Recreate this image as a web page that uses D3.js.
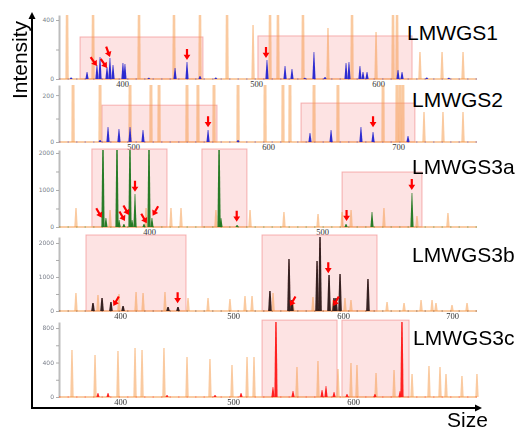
<!DOCTYPE html>
<html><head><meta charset="utf-8">
<script src="https://cdn.jsdelivr.net/npm/d3@7"></script>
<style>body{margin:0;background:#fff}svg{display:block}</style>
</head><body><svg id="c" width="516" height="431"></svg>
<script>
// ---------------- DATA ----------------
const panelNames = ["LMWGS1","LMWGS2","LMWGS3a","LMWGS3b","LMWGS3c"];
const sampleColors = ["#2424d0","#2424d0","#1c761c","#2a1414","#ff1414"];

const xTicks1 = [400,500,600];
const xTicks2 = [500,600,700];
const xTicks3 = [400,500];
const xTicks4 = [400,500,600,700];
const xTicks5 = [400,500,600];

const yTicks1 = [0,200,400],            yLabels1 = [0,400];
const yTicks2 = [0,100,200],            yLabels2 = [0,200];
const yTicks3 = [0,500,1000,1500,2000], yLabels3 = [0,1000,2000];
const yTicks4 = [0,500,1000,1500,2000], yLabels4 = [0,1000,2000];
const yTicks5 = [0,200,400,600,800],    yLabels5 = [0,400,800];

// size-standard (orange) peaks: [size, intensity]
const ladder1 = [[359,1000],[378.4,1000],[412.7,1000],[438.8,1000],[458.2,1000],[478.4,1000],[497.8,366],[511.5,1000],[518,1000],[538.5,1000],[559,346],[578.7,1000],[598.4,319],[612.3,1000],[615.6,1000],[634.4,183],[652.5,183],[669.7,183]];
const ladder2 = [[455.6,1000],[475.6,1000],[497.8,1000],[513.3,1000],[519.3,1000],[540,1000],[548.1,1000],[560,1000],[577.8,1000],[597.8,1000],[611.5,1000],[616.9,1000],[635.4,1000],[653.8,1000],[688.5,1000],[699.2,1000],[701.5,1000],[703.8,1000],[720,128],[734.6,128],[750,128]];
const ladder3 = [[357.8,514],[377.5,459],[398.3,514],[412.7,514],[418.5,514],[438.7,459],[458.4,459],[478,405],[497.7,351],[511.6,405],[516.8,459],[535.8,514],[554.9,297],[572.8,378]];
const ladder4 = [[361,529],[380.5,471],[399.1,500],[414.2,559],[420.4,529],[439.8,559],[460.2,382],[477.9,382],[497.3,353],[510.9,441],[517.3,441],[536.4,529],[554.5,265],[572.7,412],[590.9,324],[601.8,382],[607.3,324],[640.4,265],[656,235],[671.6,324],[681.7,324],[685.3,235],[700,176],[713.8,235]];
const ladder5 = [[357.5,545],[377.9,487],[398.2,533],[413.3,568],[419.5,545],[438.9,568],[459.3,463],[479.6,440],[499.1,371],[511.7,463],[517.5,463],[553.3,348],[570.8,417],[587.5,324],[598.3,394],[603.3,371],[619.2,278],[634.2,313],[649.2,267],[663.3,359],[672.5,348],[677.5,267],[690.8,243],[703.3,267]];

// sample peaks: [size, intensity]
const sample1 = [[362,10],[373.9,47],[381.3,95],[383.6,149],[388.8,81],[391,142],[393.3,95],[400.7,108],[402.2,102],[420,8],[439.6,75],[448.5,115],[458.2,20],[470,10],[509,129],[523.8,88],[529.5,68],[540,8],[547.5,183],[556.6,14],[573.8,108],[576.2,115],[585.2,88],[587.7,47],[591,47],[616.4,61],[619.7,47],[640,10],[658,8]];
const sample2 = [[475.6,9],[481.5,64],[489.6,55],[497.8,64],[507.4,51],[555.6,51],[577.8,9],[632.3,38],[648.5,51],[671.5,64],[680.8,43],[707.7,26]];
const sample3 = [[373.4,3000],[375.1,243],[381.5,3000],[382.7,190],[385.5,81],[389,3000],[390.2,190],[391.9,892],[397.1,81],[400,3000],[401.7,243],[440.5,3000],[441.6,243],[450.9,54],[513.9,81],[528.9,405],[552,919]];
const sample4 = [[376.1,235],[384.1,382],[392,265],[402.7,147],[442.5,118],[451.3,118],[533.6,588],[550.9,1529],[553.6,324],[576.4,1471],[579.1,2300],[587.3,1059],[591.8,382],[593.6,382],[597.3,1088],[622.9,941]];
const sample5 = [[380.5,46],[389.4,46],[441.6,23],[484.1,23],[506.7,46],[533.3,116],[535.8,1200],[550,70],[574.2,81],[577.5,127],[584.2,58],[595,35],[618.3,35],[639.2,70],[640.8,1200]];

// red arrows: [size, intensity at tip, tilt in degrees]
const arrows1 = [[381.3,88,-35],[388.8,75,-35],[391,149,-20],[448.5,129,0],[508.2,142,0]];
const arrows2 = [[555.6,63,0],[680.8,63,0]];
const arrows3 = [[372.7,251,-30],[386.1,162,-30],[388.4,324,-30],[391.9,950,0],[398.7,100,-30],[402.1,305,30],[450.7,143,0],[514.2,162,0],[551.9,1000,0]];
const arrows4 = [[394.1,147,30],[451,226,0],[551.8,147,30],[586.6,1108,0],[591.2,147,30]];
const arrows5 = [];

// highlighted regions: [size from, size to, top intensity]
const boxes1 = [[368.7,460.4,285],[501.6,627.9,292]];
const boxes2 = [[477,562.2,157],[625.4,713,166]];
const boxes3 = [[367,410.4,2108],[430.6,456.6,2108],[511.6,557.8,1486]];
const boxes4 = [[369.9,458.4,2235],[526.4,631.2,2235]];
const boxes5 = [[524.2,586.7,892],[590.8,646.7,892]];

// ---------------- LAYOUT ----------------
const X0 = 59, X1 = 477;
const layout = [
  {top:15,  base:79,  yMax:434,  xPx:[122,256,378],     tx:407, ty:40},
  {top:85,  base:142, yMax:243,  xPx:[133,268,398],     tx:412, ty:107},
  {top:150, base:227, yMax:2081, xPx:[149,322],         tx:412, ty:174},
  {top:237, base:311, yMax:2176, xPx:[120,233,343,452], tx:412, ty:262},
  {top:322, base:397, yMax:870,  xPx:[120,233,353],     tx:413, ty:345}
];
const panels = [
  {xTicks:xTicks1,yTicks:yTicks1,yLabels:yLabels1,ladder:ladder1,sample:sample1,arrows:arrows1,boxes:boxes1},
  {xTicks:xTicks2,yTicks:yTicks2,yLabels:yLabels2,ladder:ladder2,sample:sample2,arrows:arrows2,boxes:boxes2},
  {xTicks:xTicks3,yTicks:yTicks3,yLabels:yLabels3,ladder:ladder3,sample:sample3,arrows:arrows3,boxes:boxes3},
  {xTicks:xTicks4,yTicks:yTicks4,yLabels:yLabels4,ladder:ladder4,sample:sample4,arrows:arrows4,boxes:boxes4},
  {xTicks:xTicks5,yTicks:yTicks5,yLabels:yLabels5,ladder:ladder5,sample:sample5,arrows:arrows5,boxes:boxes5}
];

const svg = d3.select("#c");
const defs = svg.append("defs");
defs.append("filter").attr("id","soft").attr("x","-50%").attr("y","-5%").attr("width","200%").attr("height","110%")
  .append("feGaussianBlur").attr("stdDeviation",0.55);

function peakPath(x, yTop, yBase, w0, w1){
  return `M${x-w0},${yBase}L${x-w1},${yTop}L${x+w1},${yTop}L${x+w0},${yBase}Z`;
}

panels.forEach((p,i)=>{
  const L = layout[i];
  const x = d3.scaleLinear().domain(p.xTicks).range(L.xPx);
  const y = d3.scaleLinear().domain([0,L.yMax]).range([L.base,L.top]);
  const g = svg.append("g");
  const cid = "clip"+i;
  defs.append("clipPath").attr("id",cid).append("rect")
    .attr("x",X0).attr("y",L.top).attr("width",X1-X0+3).attr("height",L.base-L.top+3);

  // highlight boxes
  g.append("g").selectAll("rect").data(p.boxes).join("rect")
    .attr("x",d=>x(d[0])).attr("y",d=>y(d[2]))
    .attr("width",d=>x(d[1])-x(d[0])).attr("height",d=>y(0)-y(d[2]))
    .attr("fill","rgba(248,140,140,0.24)").attr("stroke","rgba(240,110,110,0.5)").attr("stroke-width",1);

  // y axis
  const ya = g.append("g").attr("transform",`translate(${X0},0)`)
    .call(d3.axisLeft(y).tickValues(p.yTicks).tickSize(3).tickSizeOuter(0).tickPadding(2)
      .tickFormat(d=>p.yLabels.includes(d)?d:""));
  ya.select(".domain").attr("stroke","#bdbdbd").attr("stroke-width",2);
  ya.selectAll(".tick line").attr("stroke","#999").attr("stroke-width",0.8);
  ya.selectAll(".tick text").attr("fill","#7a7f8a").attr("font-size",6)
    .attr("font-family","DejaVu Sans, sans-serif");

  // x axis labels
  const xa = g.append("g").attr("transform",`translate(0,${L.base})`)
    .call(d3.axisBottom(x).tickValues(p.xTicks).tickSize(0).tickPadding(1.8).tickFormat(d3.format("d")));
  xa.select(".domain").remove();
  xa.selectAll(".tick text").attr("fill","#333").attr("font-size",8.5)
    .attr("font-family","Liberation Serif, Times New Roman, serif");

  const pg = g.append("g").attr("clip-path",`url(#${cid})`);
  // baseline
  pg.append("line").attr("x1",X0).attr("x2",X1).attr("y1",y(0)).attr("y2",y(0))
    .attr("stroke","#f5a45e").attr("stroke-width",1.6).attr("opacity",0.75);
  pg.append("line").attr("x1",X0).attr("x2",X1).attr("y1",y(0)).attr("y2",y(0))
    .attr("stroke",sampleColors[i]).attr("stroke-width",1.2).attr("stroke-dasharray","1.5,7").attr("opacity",0.45);

  // ladder peaks
  pg.append("g").attr("filter","url(#soft)").selectAll("path").data(p.ladder).join("path")
    .attr("d",d=>peakPath(x(d[0]),y(d[1]),y(0),1.7,0.7))
    .attr("fill","#f5963f").attr("opacity",0.5);
  // sample peaks
  pg.append("g").attr("filter","url(#soft)").selectAll("path").data(p.sample).join("path")
    .attr("d",d=>peakPath(x(d[0]),y(d[1]),y(0),i===3?1.8:1.6,i===3?0.7:0.35))
    .attr("fill",sampleColors[i]).attr("opacity",0.95);

  // arrows
  g.append("g").selectAll("path").data(p.arrows).join("path")
    .attr("transform",d=>`translate(${x(d[0])},${y(d[1])}) rotate(${d[2]})`)
    .attr("d","M0,0L-3.4,-5.2L-1.1,-5.2L-1.1,-11L1.1,-11L1.1,-5.2L3.4,-5.2Z")
    .attr("fill","#ff0000");

  // title
  svg.append("text").attr("x",L.tx).attr("y",L.ty).text(panelNames[i])
    .attr("font-family","Liberation Sans, Arial, sans-serif").attr("font-size",21).attr("fill","#000");
});

// outer axes arrows
svg.append("line").attr("x1",32).attr("x2",32).attr("y1",409).attr("y2",18).attr("stroke","#000").attr("stroke-width",2);
svg.append("path").attr("d","M32,12L28.5,19L35.5,19Z").attr("fill","#000");
svg.append("line").attr("x1",31).attr("x2",476).attr("y1",408).attr("y2",408).attr("stroke","#000").attr("stroke-width",2);
svg.append("path").attr("d","M482,408L475,404.5L475,411.5Z").attr("fill","#000");
svg.append("text").attr("transform","translate(27,60) rotate(-90)").attr("text-anchor","middle").text("Intensity")
  .attr("font-family","Liberation Sans, Arial, sans-serif").attr("font-size",21).attr("fill","#000");
svg.append("text").attr("x",447).attr("y",426.5).text("Size")
  .attr("font-family","Liberation Sans, Arial, sans-serif").attr("font-size",21).attr("fill","#000");
</script></body></html>
